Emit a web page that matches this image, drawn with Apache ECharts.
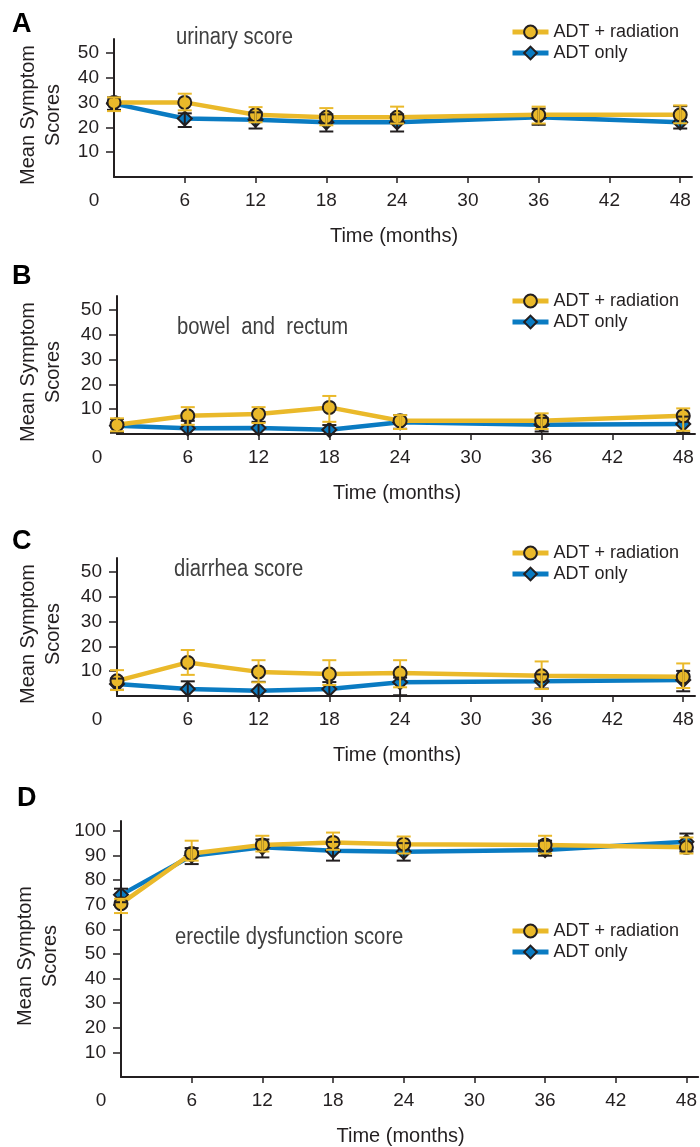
<!DOCTYPE html>
<html>
<head>
<meta charset="utf-8">
<script src="https://cdn.jsdelivr.net/npm/echarts@6/dist/echarts.min.js"></script>
<style>
  html, body { margin: 0; padding: 0; background: #fff; }
  #chart { width: 700px; height: 1147px; }
</style>
</head>
<body>
<div id="chart"></div>
<script>
// time points (months) shared by all four panels
const months = [0, 6, 12, 18, 24, 36, 48]
const xLabelValues = [0, 6, 12, 18, 24, 30, 36, 42, 48]
const xTickValues = [6, 12, 18, 24, 30, 36, 42, 48]
const seriesNames = ['ADT + radiation', 'ADT only']

// A - urinary score
const urinaryRad = [30, 30, 25, 24, 24, 25, 25]
const urinaryRadLow = [26.5, 26.8, 22, 20.8, 21.5, 21.5, 21.6]
const urinaryRadHigh = [32, 33.5, 28.1, 27.7, 28.3, 28.3, 28.8]
const urinaryOnly = [29.5, 23.5, 23, 22, 22, 24, 22]
const urinaryOnlyLow = [27, 20.1, 19.5, 18.3, 18.3, 21, 19.5]
const urinaryOnlyHigh = [32, 25.6, 26, 25.2, 25.2, 27.5, 28.5]

// B - bowel and rectum
const bowelRad = [3.7, 7.3, 8, 10.7, 5.3, 5.3, 7.3]
const bowelRadLow = [1.1, 3.7, 4.4, 4.9, 2, 2, 1.3]
const bowelRadHigh = [6.3, 10.8, 10.8, 15.3, 7.6, 8.3, 10.3]
const bowelOnly = [3.3, 2.3, 2.4, 1.7, 4.7, 3.7, 4]
const bowelOnlyLow = [0.5, 0, 0, 0, 2.1, 1, 0.5]
const bowelOnlyHigh = [6, 5.3, 4.9, 3.6, 7.6, 6.5, 7]

// C - diarrhea score
const diarrheaRad = [6.1, 13.5, 9.7, 8.8, 9.2, 8.1, 7.7]
const diarrheaRadLow = [2.4, 8.5, 5.5, 4.4, 3.5, 2.8, 3.2]
const diarrheaRadHigh = [10.4, 18.5, 14.4, 14.4, 14.4, 13.9, 13.1]
const diarrheaOnly = [4.8, 2.8, 2.1, 2.8, 5.5, 5.9, 6.4]
const diarrheaOnlyLow = [2.5, 0, 0, 0, 0.3, 3, 1.9]
const diarrheaOnlyHigh = [7, 5.9, 5.7, 5.6, 7.4, 8.7, 10.1]

// D - erectile dysfunction score
const erectileRad = [70.4, 90.8, 94.3, 95.3, 94.6, 94.3, 93.3]
const erectileRadLow = [66.6, 87.9, 91.6, 92.3, 90.8, 90.8, 90.8]
const erectileRadHigh = [72.4, 96, 98, 99.3, 97.7, 98, 97.3]
const erectileOnly = [74, 89.9, 93.3, 91.9, 91.5, 92.2, 95.6]
const erectileOnlyLow = [71, 86.5, 89.2, 87.9, 87.9, 89.9, 91.6]
const erectileOnlyHigh = [76.5, 93, 96.5, 95.5, 95, 96, 98.9]

const panels = [
  {
    letter: 'A', title: 'urinary score', yMax: 55.5, yTicks: [10, 20, 30, 40, 50],
    rad: [urinaryRad, urinaryRadLow, urinaryRadHigh],
    only: [urinaryOnly, urinaryOnlyLow, urinaryOnlyHigh]
  },
  {
    letter: 'B', title: 'bowel  and  rectum', yMax: 55.5, yTicks: [10, 20, 30, 40, 50],
    rad: [bowelRad, bowelRadLow, bowelRadHigh],
    only: [bowelOnly, bowelOnlyLow, bowelOnlyHigh]
  },
  {
    letter: 'C', title: 'diarrhea score', yMax: 55.5, yTicks: [10, 20, 30, 40, 50],
    rad: [diarrheaRad, diarrheaRadLow, diarrheaRadHigh],
    only: [diarrheaOnly, diarrheaOnlyLow, diarrheaOnlyHigh]
  },
  {
    letter: 'D', title: 'erectile dysfunction score', yMax: 104, yTicks: [10, 20, 30, 40, 50, 60, 70, 80, 90, 100],
    rad: [erectileRad, erectileRadLow, erectileRadHigh],
    only: [erectileOnly, erectileOnlyLow, erectileOnlyHigh]
  }
]

// layout of each panel (px)
const layout = [
  { left: 114, top: 39, height: 138, nameGap: 48, letterX: 12, letterY: 25, titleX: 176, titleY: 38, legendTop: 23 },
  { left: 117, top: 296, height: 138, nameGap: 51, letterX: 12, letterY: 277, titleX: 177, titleY: 328, legendTop: 292 },
  { left: 117, top: 558, height: 138, nameGap: 51, letterX: 12, letterY: 542, titleX: 174, titleY: 570, legendTop: 544 },
  { left: 121, top: 821, height: 257, nameGap: 55, letterX: 17, letterY: 799, titleX: 175, titleY: 938, legendTop: 922 }
]

const YELLOW = '#EAB92A'
const BLUE = '#0A7BC2'
const INK = '#231f20'
const FONT = "'Liberation Sans', Arial, sans-serif"

function renderErrorBar (params, api) {
  const x = api.value(0)
  const hi = api.coord([x, api.value(2)])
  const lo = api.coord([x, api.value(1)])
  const half = 7
  const style = { stroke: api.visual('color'), lineWidth: 2 }
  return {
    type: 'group',
    children: [
      { type: 'line', shape: { x1: hi[0], y1: hi[1], x2: lo[0], y2: lo[1] }, style: style },
      { type: 'line', shape: { x1: hi[0] - half, y1: hi[1], x2: hi[0] + half, y2: hi[1] }, style: style },
      { type: 'line', shape: { x1: lo[0] - half, y1: lo[1], x2: lo[0] + half, y2: lo[1] }, style: style }
    ]
  }
}

const grids = []
const xAxes = []
const yAxes = []
const series = []
const legends = []
const graphics = []

panels.forEach(function (p, i) {
  const l = layout[i]
  grids.push({ left: l.left, top: l.top, width: 578, height: l.height })
  xAxes.push({
    type: 'value', gridIndex: i, min: 0, max: 49,
    name: 'Time (months)', nameLocation: 'middle', nameGap: 49,
    nameTextStyle: { fontFamily: FONT, fontSize: 20, color: INK, padding: [0, 18, 0, 0] },
    axisLine: { lineStyle: { color: INK, width: 2 } },
    axisTick: { show: true, customValues: xTickValues, length: 6, lineStyle: { color: INK, width: 1.5 } },
    axisLabel: {
      customValues: xLabelValues, margin: 14, fontFamily: FONT, fontSize: 19, color: INK,
      formatter: function (v) { return v === 0 ? '{z|0}' : String(v) },
      rich: { z: { fontFamily: FONT, fontSize: 19, color: INK, padding: [0, 40, 0, 0] } }
    },
    splitLine: { show: false }
  })
  yAxes.push({
    type: 'value', gridIndex: i, min: 0, max: p.yMax,
    name: 'Mean Symptom\nScores', nameLocation: 'middle', nameGap: l.nameGap, nameRotate: 90,
    nameTextStyle: { fontFamily: FONT, fontSize: 20, lineHeight: 25, color: INK, padding: [0, 14, 0, 0] },
    axisLine: { show: true, lineStyle: { color: INK, width: 2 } },
    axisTick: { show: true, customValues: p.yTicks, length: 8, lineStyle: { color: INK, width: 1.5 } },
    axisLabel: { customValues: p.yTicks, margin: 15, fontFamily: FONT, fontSize: 19, color: INK },
    splitLine: { show: false }
  })

  const mk = function (arr) { return months.map(function (m, k) { return [m, arr[k]] }) }
  const mkErr = function (lo, hi) { return months.map(function (m, k) { return [m, lo[k], hi[k]] }) }

  series.push({
    name: seriesNames[1], type: 'line', xAxisIndex: i, yAxisIndex: i, z: 2,
    data: mk(p.only[0]), symbol: 'diamond', symbolSize: 14,
    lineStyle: { color: BLUE, width: 4.5 },
    itemStyle: { color: BLUE, borderColor: INK, borderWidth: 2 }
  })
  series.push({
    name: seriesNames[0], type: 'line', xAxisIndex: i, yAxisIndex: i, z: 3,
    data: mk(p.rad[0]), symbol: 'circle', symbolSize: 13,
    lineStyle: { color: YELLOW, width: 4.5 },
    itemStyle: { color: YELLOW, borderColor: INK, borderWidth: 2 }
  })
  series.push({
    type: 'custom', xAxisIndex: i, yAxisIndex: i, z: 4,
    renderItem: renderErrorBar, itemStyle: { color: INK },
    encode: { x: 0, y: [1, 2] }, data: mkErr(p.only[1], p.only[2])
  })
  series.push({
    type: 'custom', xAxisIndex: i, yAxisIndex: i, z: 4,
    renderItem: renderErrorBar, itemStyle: { color: YELLOW },
    encode: { x: 0, y: [1, 2] }, data: mkErr(p.rad[1], p.rad[2])
  })

  legends.push({
    data: seriesNames, orient: 'vertical', left: 510, top: l.legendTop, padding: 0,
    itemWidth: 36, itemHeight: 16, itemGap: 3,
    lineStyle: { width: 5 },
    textStyle: { fontFamily: FONT, fontSize: 18, color: INK }
  })

  graphics.push({
    type: 'text', x: l.letterX, y: l.letterY,
    style: { text: p.letter, font: "bold 27px 'Liberation Sans', Arial, sans-serif", fill: '#000', textVerticalAlign: 'middle' }
  })
  graphics.push({
    type: 'text', x: l.titleX, y: l.titleY, scaleX: 0.88,
    style: { text: p.title, font: "23px 'Liberation Sans', Arial, sans-serif", fill: '#3f3f3f', textVerticalAlign: 'middle' }
  })
})

const chart = echarts.init(document.getElementById('chart'))
chart.setOption({
  animation: false,
  backgroundColor: '#fff',
  grid: grids,
  xAxis: xAxes,
  yAxis: yAxes,
  legend: legends,
  graphic: graphics,
  series: series
})
</script>
</body>
</html>
